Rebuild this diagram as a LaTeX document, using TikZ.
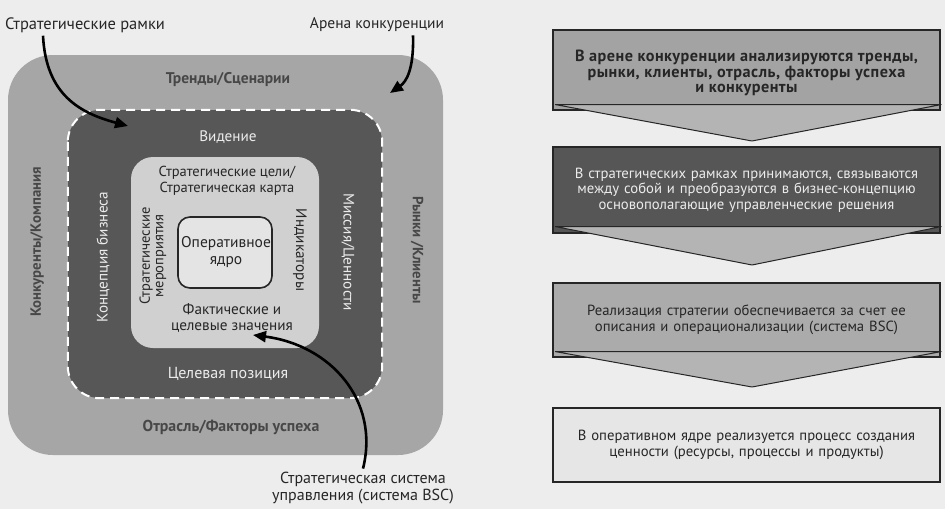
\documentclass[tikz,border=0pt]{standalone}
\usepackage{fontspec}
\setmainfont{PT Sans}
\usetikzlibrary{arrows.meta}
\definecolor{pagebg}{HTML}{EDEDED}
\definecolor{outerc}{HTML}{A6A6A6}
\definecolor{darkc}{HTML}{575757}
\definecolor{lightc}{HTML}{D0D0D0}
\definecolor{corec}{HTML}{E4E4E4}
\definecolor{inkc}{HTML}{262626}
\definecolor{labc}{HTML}{474747}
\definecolor{paletxt}{HTML}{ECECEC}
\definecolor{box1c}{HTML}{A3A3A3}
\definecolor{box2c}{HTML}{565656}
\definecolor{box3c}{HTML}{ABABAB}
\definecolor{box4c}{HTML}{E6E6E6}
\definecolor{chevc}{HTML}{B4B4B4}
\begin{document}
\begin{tikzpicture}[x=1pt,y=-1pt,
  lab/.style={font=\fontsize{15.2}{16}\selectfont, align=center, inner sep=0pt, text=inkc},
  outerlab/.style={lab, font=\fontsize{15.2}{16}\selectfont\bfseries, text=labc},
  whitelab/.style={lab, text=paletxt},
  ringbox/.style={draw=none, inner sep=0pt},
  rbox/.style={draw=inkc, line width=1.2pt, minimum width=387, inner sep=0pt, text width=380, align=center, font=\fontsize{14.7}{15.6}\selectfont},
  chev/.style={fill=chevc, draw=inkc, line width=1pt, line join=round},
  bigarrow/.style={draw=black, line width=2.6pt, -{Triangle[length=13pt,width=11pt]}}
]
\fill[pagebg] (0,0) rectangle (945,509);
\useasboundingbox (0,0) rectangle (945,509);

% nested areas
\node[ringbox, fill=outerc, minimum width=435, minimum height=400, rounded corners=45] (arena) at (225.5,255) {};
\node[ringbox, fill=darkc, minimum width=314, minimum height=288, rounded corners=32] (frame) at (225,254) {};
\draw[white, line width=2pt, dash pattern=on 9pt off 6pt, rounded corners=32]
  (frame.north west) rectangle (frame.south east);
\node[ringbox, fill=lightc, minimum width=188, minimum height=191, rounded corners=22] (system) at (225,252.5) {};
\node[ringbox, fill=corec, draw=inkc, line width=1.6pt, minimum width=94, minimum height=71, rounded corners=12] (core) at (225,252.5) {};

% labels in the areas
\node[outerlab, font=\fontsize{15.5}{16}\selectfont\bfseries] (trend) at (228,80) {Тренды/Сценарии};
\node[outerlab, font=\fontsize{15.8}{16}\selectfont\bfseries] (otr) at (231,427) {Отрасль/Факторы успеха};
\node[outerlab, font=\fontsize{14.8}{16}\selectfont\bfseries, rotate=90] (konk) at (37,242) {Конкуренты/Компания};
\node[outerlab, font=\fontsize{14.8}{16}\selectfont\bfseries, rotate=-90] (ryn) at (417,250) {Рынки /Клиенты};
\node[whitelab] (vid) at (228,137) {Видение};
\node[whitelab, font=\fontsize{16}{16}\selectfont] (cel) at (228,374) {Целевая позиция};
\node[whitelab, rotate=90] (konc) at (103,257) {Концепция бизнеса};
\node[whitelab, rotate=-90] (mis) at (348,252) {Миссия/Ценности};
\node[lab, font=\fontsize{14.5}{16.5}\selectfont] (goals) at (227,181) {Стратегические цели/\\Стратегическая карта};
\node[lab] (fakt) at (232,318) {Фактические и\\целевые значения};
\node[lab, font=\fontsize{14.5}{13.5}\selectfont, rotate=90] (mer) at (153,256) {Стратегические\\мероприятия};
\node[lab, rotate=-90] (ind) at (300,250) {Индикаторы};
\node[lab, font=\fontsize{15.5}{16.5}\selectfont] (corelab) at (226,252) {Оперативное\\ядро};

% outside labels
\node[lab, font=\fontsize{16.5}{17}\selectfont] (sr) at (85,25) {Стратегические рамки};
\node[lab, font=\fontsize{15.5}{17}\selectfont] (ak) at (377,25) {Арена конкуренции};
\node[lab, font=\fontsize{16}{17.5}\selectfont] (bsc) at (363,488) {Стратегическая система\\управления (система BSC)};

\coordinate (t1) at (128,126);
\coordinate (t2) at (390,93);
\coordinate (t3) at (253,335);
\draw[bigarrow] ([xshift=-42pt,yshift=-3pt]sr.south) .. controls (46,95) and (80,113) .. (t1);
\draw[bigarrow] ([xshift=36pt,yshift=-3pt]ak.south) .. controls (414,70) and (406,82) .. (t2);
\draw[bigarrow] ([yshift=3pt]bsc.north) .. controls (380,400) and (330,345) .. (t3);

% right column
\node[rbox, fill=box1c, minimum height=80, text=inkc] (b1) at (746.5,70) {};
\node[lab, font=\fontsize{16.2}{15.8}\selectfont\bfseries\addfontfeature{LetterSpace=3}, text=inkc] (b1txt) at (746.5,73)
  {В арене конкуренции анализируются тренды,\\ рынки, клиенты, отрасль, факторы успеха\\ и конкуренты};
\node[rbox, fill=box2c, minimum height=86, text=paletxt] (b2) at (746.5,190)
  {В стратегических рамках принимаются, связываются\\ между собой и преобразуются в бизнес-концепцию\\ основополагающие управленческие решения};
\node[rbox, fill=box3c, minimum height=74, text=inkc] (b3) at (746.5,320)
  {Реализация стратегии обеспечивается за счет ее\\ описания и операционализации (система BSC)};
\node[rbox, fill=box4c, minimum height=74, text=inkc] (b4) at (746.5,445)
  {В оперативном ядре реализуется процесс создания\\ ценности (ресурсы, процессы и продукты)};

\draw[chev] ([xshift=3pt,yshift=6pt]b1.south west) -- ([xshift=0.5pt,yshift=6pt]b1.south east)
  -- (752,141) -- cycle;
\draw[chev] ([xshift=3pt,yshift=7pt]b2.south west) -- ([xshift=0.5pt,yshift=7pt]b2.south east)
  -- (752,265) -- cycle;
\draw[chev] ([xshift=3pt,yshift=6pt]b3.south west) -- ([xshift=0.5pt,yshift=6pt]b3.south east)
  -- (752,387) -- cycle;
\end{tikzpicture}
\end{document}
